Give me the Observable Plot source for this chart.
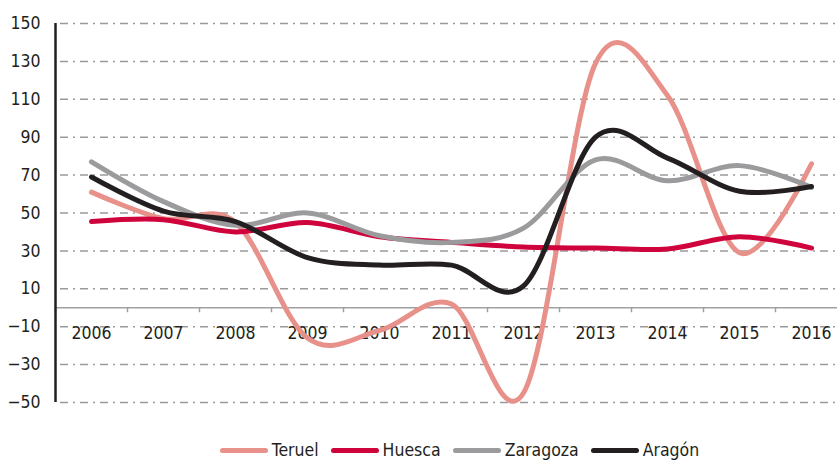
<!DOCTYPE html>
<html>
<head>
<meta charset="utf-8">
<script src="https://cdn.jsdelivr.net/npm/d3@7"></script>
<script src="https://cdn.jsdelivr.net/npm/@observablehq/plot@0.6"></script>
<style>
  html, body { margin: 0; padding: 0; background: #fff; }
  body { width: 837px; height: 461px; overflow: hidden; font-family: "DejaVu Sans Condensed", "Liberation Sans Narrow", sans-serif; color: #231F20; }
  #legend { display: flex; justify-content: center; align-items: center; padding-left: 82px; margin-top: 18px; height: 24px; font-size: 17.5px; }
  .item { display: flex; align-items: center; margin: 0 6px; }
  .sw { width: 48px; height: 5px; border-radius: 3px; margin-right: 4px; }
</style>
</head>
<body>
<div id="chart"></div>
<div id="legend"></div>
<script>
const years = [2006, 2007, 2008, 2009, 2010, 2011, 2012, 2013, 2014, 2015, 2016];
const teruel   = [61, 47, 45, -16, -12, 2, -45, 129, 112, 29, 76];
const huesca   = [45.5, 46.5, 40, 45, 37.5, 34.5, 32, 31.5, 31, 37.5, 31.5];
const zaragoza = [77, 56, 43.5, 50, 38, 34.5, 42, 78, 67, 75, 63.5];
const aragon   = [69, 51, 45.5, 26.5, 22.5, 22.5, 11.5, 90, 79, 61.5, 64];
const seriesNames = ["Teruel", "Huesca", "Zaragoza", "Aragón"];
const seriesColors = ["#E8918A", "#D0043C", "#9B9B9D", "#231F20"];
const yTicks = [-50, -30, -10, 10, 30, 50, 70, 90, 110, 130, 150];

const seriesValues = [teruel, huesca, zaragoza, aragon];
const boundaries = [...years.map(y => y - 0.5), years[years.length - 1] + 0.5];
const font = '"DejaVu Sans Condensed", "Liberation Sans Narrow", sans-serif';

const lineMarks = seriesValues.map((vals, k) =>
  Plot.line(years.map((yr, i) => ({year: yr, value: vals[i]})), {
    x: "year", y: "value", stroke: seriesColors[k], strokeWidth: 5,
    curve: "cardinal", strokeLinecap: "round", strokeLinejoin: "round"
  })
);

const chart = Plot.plot({
  width: 837,
  height: 420,
  marginLeft: 56,
  marginRight: 0,
  marginTop: 23,
  marginBottom: 18,
  x: {type: "linear", domain: [2005.5, 2016.5], range: [55, 847], axis: null},
  y: {domain: [-50, 150], range: [402, 23], axis: null, label: null},
  style: {fontFamily: font, fontSize: "17.5px", color: "#231F20", background: "transparent", overflow: "visible"},
  marks: [
    Plot.ruleY(yTicks, {stroke: "#9a9a9a", strokeWidth: 1.5, strokeDasharray: "8,5,2,5", insetLeft: 4}),
    Plot.ruleY([0], {stroke: "#a0a0a0", strokeWidth: 1.5}),
    Plot.ruleX(boundaries, {y1: 0, y2: 0, insetBottom: -5, stroke: "#a0a0a0", strokeWidth: 1.5}),
    Plot.ruleX([boundaries[0]], {y1: -50, y2: 150, stroke: "#231F20", strokeWidth: 2.5}),
    Plot.axisY({ticks: yTicks, tickSize: 0, tickPadding: 16, fontSize: 17.5, fill: "#231F20", label: null}),
    Plot.text(years, {x: d => d, y: 0, dy: 26, text: d => String(d), fontSize: 17.5, fill: "#231F20", lineAnchor: "middle"}),
    ...lineMarks
  ]
});
document.getElementById("chart").appendChild(chart);

const legend = document.getElementById("legend");
seriesNames.forEach((n, k) => {
  const it = document.createElement("div");
  it.className = "item";
  const sw = document.createElement("span");
  sw.className = "sw";
  sw.style.background = seriesColors[k];
  const tx = document.createElement("span");
  tx.textContent = n;
  it.appendChild(sw);
  it.appendChild(tx);
  legend.appendChild(it);
});
</script>
</body>
</html>
